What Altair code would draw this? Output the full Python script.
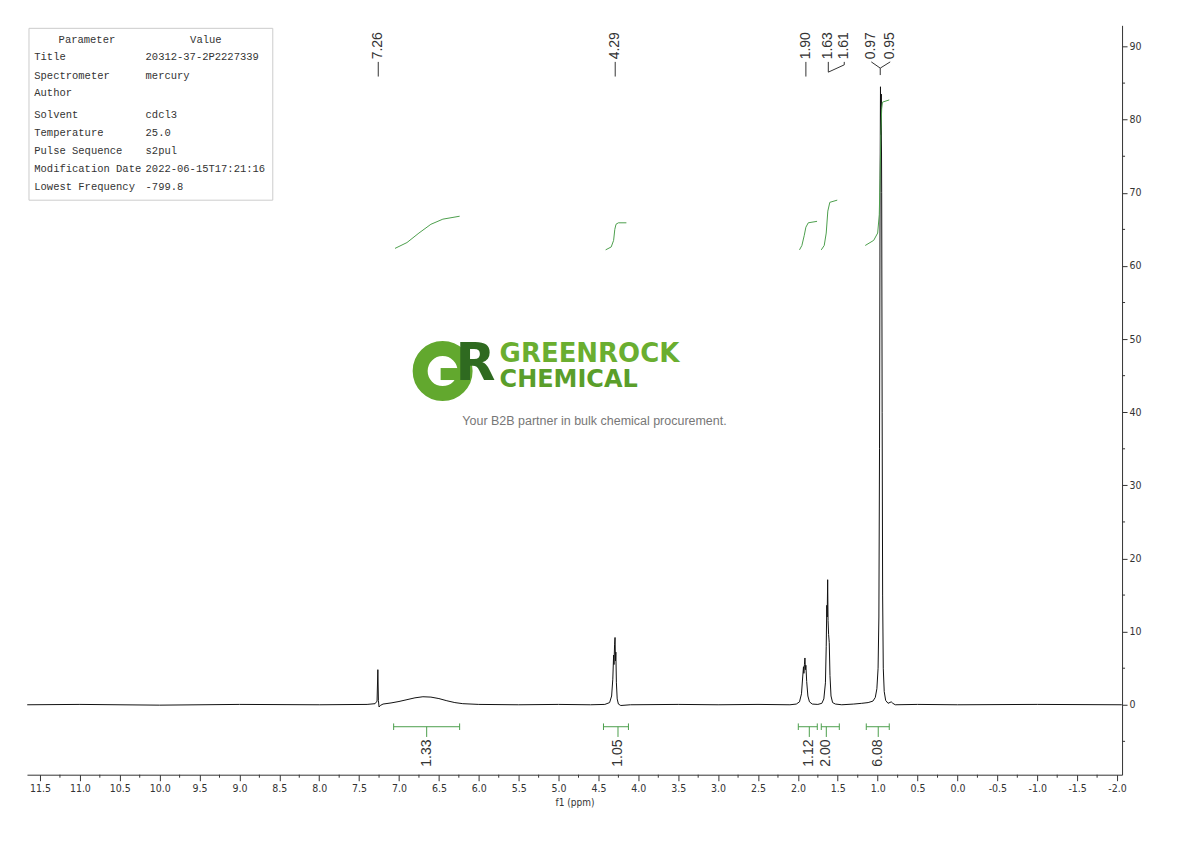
import altair as alt
import pandas as pd

# ---------------- data ----------------
spec_ppm = [11.66, 11.0, 10.0, 9.0, 8.0, 7.40, 7.30, 7.275, 7.265, 7.258, 7.25, 7.235, 7.20, 7.10,
            7.0, 6.9, 6.8, 6.7, 6.6, 6.5, 6.4, 6.3, 6.2, 6.0, 5.5, 5.0, 4.6, 4.42, 4.36, 4.335,
            4.32, 4.31, 4.305, 4.298, 4.292, 4.287, 4.282, 4.275, 4.265, 4.25, 4.22, 4.1, 3.5,
            3.0, 2.5, 2.1, 2.02, 1.98, 1.955, 1.94, 1.93, 1.925, 1.918, 1.912, 1.906, 1.90, 1.89,
            1.875, 1.855, 1.82, 1.75, 1.70, 1.675, 1.655, 1.645, 1.638, 1.633, 1.627, 1.622,
            1.615, 1.607, 1.598, 1.585, 1.565, 1.53, 1.45, 1.30, 1.20, 1.12, 1.06, 1.03, 1.01,
            0.995, 0.985, 0.977, 0.970, 0.965, 0.960, 0.955, 0.950, 0.944, 0.938, 0.930, 0.918,
            0.90, 0.87, 0.83, 0.81, 0.78, 0.5, 0.0, -1.0, -2.06]
spec_int = [0.0, 0.05, -0.05, 0.05, 0.0, 0.05, 0.15, 0.5, 4.8, 0.6, -0.3, -0.1, 0.1, 0.25,
            0.45, 0.7, 0.95, 1.1, 1.05, 0.85, 0.55, 0.3, 0.15, 0.05, 0.0, 0.05, 0.0, 0.05, 0.3, 1.2,
            3.5, 6.8, 5.5, 8.2, 9.2, 6.0, 7.2, 3.0, 0.8, 0.1, -0.1, 0.0, 0.05,
            0.0, 0.05, 0.0, 0.1, 0.4, 1.5, 3.8, 5.2, 4.3, 5.5, 6.4, 4.8, 5.4, 3.2,
            1.2, 0.4, 0.1, 0.05, 0.2, 0.8, 3.0, 8.0, 13.6, 12.0, 17.1, 11.5,
            9.6, 8.5, 4.0, 1.2, 0.3, 0.1, 0.0, 0.1, 0.2, 0.3, 0.5, 1.0, 2.2,
            5.0, 12.0, 35.0, 70.0, 84.5, 78.0, 83.5, 70.0, 40.0, 15.0, 5.0, 1.8,
            0.6, 0.2, 0.4, 0.2, 0.0, 0.05, 0.0, 0.05, 0.0]

int_group = ["a"] * 6 + ["b"] * 7 + ["c"] * 6 + ["d"] * 6 + ["e"] * 9
int_ppm = [7.05, 6.9, 6.75, 6.6, 6.45, 6.24,
           4.41, 4.34, 4.31, 4.295, 4.28, 4.25, 4.15,
           1.98, 1.95, 1.92, 1.90, 1.87, 1.76,
           1.707, 1.67, 1.645, 1.625, 1.60, 1.507,
           1.156, 1.05, 1.0, 0.98, 0.97, 0.96, 0.95, 0.94, 0.855]
int_val = [62.4, 63.2, 64.5, 65.7, 66.4, 66.8,
           62.2, 62.6, 63.5, 65.0, 65.7, 65.9, 65.9,
           62.2, 62.8, 64.2, 65.3, 65.9, 66.1,
           62.2, 62.8, 64.5, 67.5, 68.7, 69.0,
           62.8, 63.5, 64.5, 67.0, 72.0, 78.0, 81.5, 82.4, 82.7]

bar_labels = ["1.33", "1.05", "1.12", "2.00", "6.08"]
bar_lo = [7.067, 4.437, 1.995, 1.707, 1.143]
bar_hi = [6.240, 4.124, 1.757, 1.481, 0.855]
bar_mid = [6.653, 4.255, 1.857, 1.644, 0.993]

peak_labels = ["7.26", "4.29", "1.90", "1.63", "1.61", "0.97", "0.95"]
peak_label_pos = [7.26, 4.29, 1.90, 1.619, 1.419, 1.080, 0.843]

conn_x1 = [7.26, 4.29, 1.90, 1.619, 1.419, 1.419, 1.080, 0.843, 0.968]
conn_y1 = [87.9, 87.9, 87.9, 87.9, 87.9, 87.5, 87.9, 87.9, 87.05]
conn_x2 = [7.26, 4.29, 1.90, 1.619, 1.419, 1.619, 0.968, 0.968, 0.968]
conn_y2 = [85.9, 85.9, 85.9, 86.5, 87.5, 86.5, 87.05, 87.05, 86.1]

x_major = [round(11.5 - 0.5 * i, 1) for i in range(28)]          # 11.5 ... -2.0
x_minor = [round(11.25 - 0.5 * i, 2) for i in range(27)]         # 11.25 ... -1.75
y_major = list(range(0, 100, 10))                                 # 0 ... 90
y_minor = list(range(-5, 95, 10))                                 # -5 ... 85

param_names = ["Title", "Spectrometer", "Author", "Solvent", "Temperature",
               "Pulse Sequence", "Modification Date", "Lowest Frequency"]
param_values = ["20312-37-2P2227339", "mercury", "", "cdcl3", "25.0",
                "s2pul", "2022-06-15T17:21:16", "-799.8"]

# ---------------- style ----------------
COND = "Liberation Sans Narrow, DejaVu Sans Condensed, Roboto Condensed, Arial Narrow, sans-serif"
SANS = "Liberation Sans, Arial, sans-serif"
MONO = "Liberation Mono, DejaVu Sans Mono, monospace"
GREEN = "#4c9f4c"
TXT = "#333333"
W, H = 1096, 750

xs = alt.Scale(domain=[11.663, -2.063], nice=False, zero=False)
ys = alt.Scale(domain=[-9.56, 92.9], nice=False, zero=False)

x_axis = alt.Axis(
    values=x_major, title="f1 (ppm)", grid=False, tickSize=6,
    labelExpr="datum.value < 0 ? '-' + format(-datum.value, '.1f') : format(datum.value, '.1f')",
    labelOverlap=False, labelFlush=False, labelFont=COND, labelFontSize=10.5,
    labelColor=TXT, domainColor=TXT, tickColor=TXT, labelPadding=3,
    titleFont=COND, titleFontSize=10, titleFontWeight="normal", titleColor=TXT,
    titlePadding=3)
y_axis = alt.Axis(
    orient="right", values=y_major, title=" ", grid=False, tickSize=5, format="d",
    labelOverlap=False, labelFlush=False, labelFont=COND, labelFontSize=10.5,
    labelColor=TXT, domainColor=TXT, tickColor=TXT, labelPadding=2)


def X(field):
    return alt.X(field, scale=xs, axis=x_axis)


def Y(field):
    return alt.Y(field, scale=ys, axis=y_axis)


one = pd.DataFrame({"k": [0]})

# ---------------- layers ----------------
layers = []

# spectrum (carries the axes)
spec_df = pd.DataFrame({"ppm": spec_ppm, "val": spec_int})
layers.append(alt.Chart(spec_df).mark_line(color="#111111", strokeWidth=1).encode(
    x=X("ppm:Q"), y=Y("val:Q")))

# minor ticks
xm_df = pd.DataFrame({"ppm": x_minor})
layers.append(alt.Chart(xm_df).mark_rule(color=TXT, strokeWidth=1).encode(
    x=X("ppm:Q"), y=alt.value(H), y2=alt.value(H + 3)))
ym_df = pd.DataFrame({"val": y_minor})
layers.append(alt.Chart(ym_df).mark_rule(color=TXT, strokeWidth=1).encode(
    y=Y("val:Q"), x=alt.value(W), x2=alt.value(W + 3)))

# parameter table
layers.append(alt.Chart(one).mark_rect(fill="white", stroke="#cccccc", strokeWidth=1).encode(
    x=alt.value(2), x2=alt.value(246), y=alt.value(3), y2=alt.value(175)))
layers.append(alt.Chart(one).mark_text(text="Parameter", font=MONO, fontSize=10.5, color=TXT,
                                       align="center", baseline="middle").encode(
    x=alt.value(60), y=alt.value(14.7)))
layers.append(alt.Chart(one).mark_text(text="Value", font=MONO, fontSize=10.5, color=TXT,
                                       align="center", baseline="middle").encode(
    x=alt.value(179), y=alt.value(14.7)))
row_y = [32, 50.7, 68, 90, 108, 126, 144, 162]
for name, val, ty in zip(param_names, param_values, row_y):
    layers.append(alt.Chart(one).mark_text(text=name, font=MONO, fontSize=10.5, color=TXT,
                                           align="left", baseline="middle").encode(
        x=alt.value(7.3), y=alt.value(ty)))
    if val:
        layers.append(alt.Chart(one).mark_text(text=val, font=MONO, fontSize=10.5, color=TXT,
                                               align="left", baseline="middle").encode(
            x=alt.value(118.7), y=alt.value(ty)))

# watermark logo
layers.append(alt.Chart(one).mark_point(shape="circle", filled=False, size=2025, strokeWidth=15,
                                        color="#62a82e", opacity=1).encode(
    x=alt.value(416), y=alt.value(346)))
layers.append(alt.Chart(one).mark_rect(color="#62a82e").encode(
    x=alt.value(414), x2=alt.value(440), y=alt.value(343), y2=alt.value(355)))
layers.append(alt.Chart(one).mark_text(text="R", font="DejaVu Sans", fontWeight="bold", fontSize=52,
                                       color="#2f6a20", align="left", baseline="alphabetic").encode(
    x=alt.value(429), y=alt.value(355)))
layers.append(alt.Chart(one).mark_text(text="GREENROCK", font="DejaVu Sans", fontWeight="bold",
                                       fontSize=26, color="#6aae30", align="left",
                                       baseline="alphabetic").encode(
    x=alt.value(473), y=alt.value(337)))
layers.append(alt.Chart(one).mark_text(text="CHEMICAL", font="DejaVu Sans", fontWeight="bold",
                                       fontSize=24, color="#5a9e2a", align="left",
                                       baseline="alphabetic").encode(
    x=alt.value(473), y=alt.value(362)))
layers.append(alt.Chart(one).mark_text(text="Your B2B partner in bulk chemical procurement.",
                                       font=SANS, fontSize=12.5, color="#777777", align="center",
                                       baseline="middle").encode(
    x=alt.value(568), y=alt.value(396)))

# integral curves
int_df = pd.DataFrame({"g": int_group, "ppm": int_ppm, "val": int_val})
layers.append(alt.Chart(int_df).mark_line(color=GREEN, strokeWidth=1).encode(
    x=X("ppm:Q"), y=Y("val:Q"), detail="g:N"))

# integration bars
BAR_Y = -3.0
bar_df = pd.DataFrame({"lo": bar_lo, "hi": bar_hi, "mid": bar_mid, "lab": bar_labels})
bar_df["yb"] = BAR_Y
bar_df["yt1"] = BAR_Y + 0.45
bar_df["yt2"] = BAR_Y - 0.45
bar_df["yc"] = BAR_Y - 1.4
bar_df["yl"] = BAR_Y - 1.75
layers.append(alt.Chart(bar_df).mark_rule(color=GREEN, strokeWidth=1).encode(
    x=X("lo:Q"), x2="hi:Q", y=Y("yb:Q")))
for end in ["lo", "hi"]:
    layers.append(alt.Chart(bar_df).mark_rule(color=GREEN, strokeWidth=1).encode(
        x=X(end + ":Q"), y=Y("yt1:Q"), y2="yt2:Q"))
layers.append(alt.Chart(bar_df).mark_rule(color=GREEN, strokeWidth=1).encode(
    x=X("mid:Q"), y=Y("yb:Q"), y2="yc:Q"))
layers.append(alt.Chart(bar_df).mark_text(font=SANS, fontSize=14, color=TXT, angle=270,
                                          align="right", baseline="middle").encode(
    x=X("mid:Q"), y=Y("yl:Q"), text="lab:N"))

# peak labels
pk_df = pd.DataFrame({"pos": peak_label_pos, "lab": peak_labels})
pk_df["yl"] = 88.25
layers.append(alt.Chart(pk_df).mark_text(font=SANS, fontSize=14, color=TXT, angle=270,
                                         align="left", baseline="middle").encode(
    x=X("pos:Q"), y=Y("yl:Q"), text="lab:N"))
conn_df = pd.DataFrame({"x1": conn_x1, "y1": conn_y1, "x2": conn_x2, "y2": conn_y2})
layers.append(alt.Chart(conn_df).mark_rule(color=TXT, strokeWidth=1).encode(
    x=X("x1:Q"), x2="x2:Q", y=Y("y1:Q"), y2="y2:Q"))

chart = alt.layer(*layers).properties(
    width=W, height=H,
    padding={"left": 19, "top": 17, "right": 60, "bottom": 58},
    autosize=alt.AutoSizeParams(type="none"),
    background="white",
).configure_view(strokeWidth=0)

chart.save("out.html", embed_options={"renderer": "svg", "actions": False})
